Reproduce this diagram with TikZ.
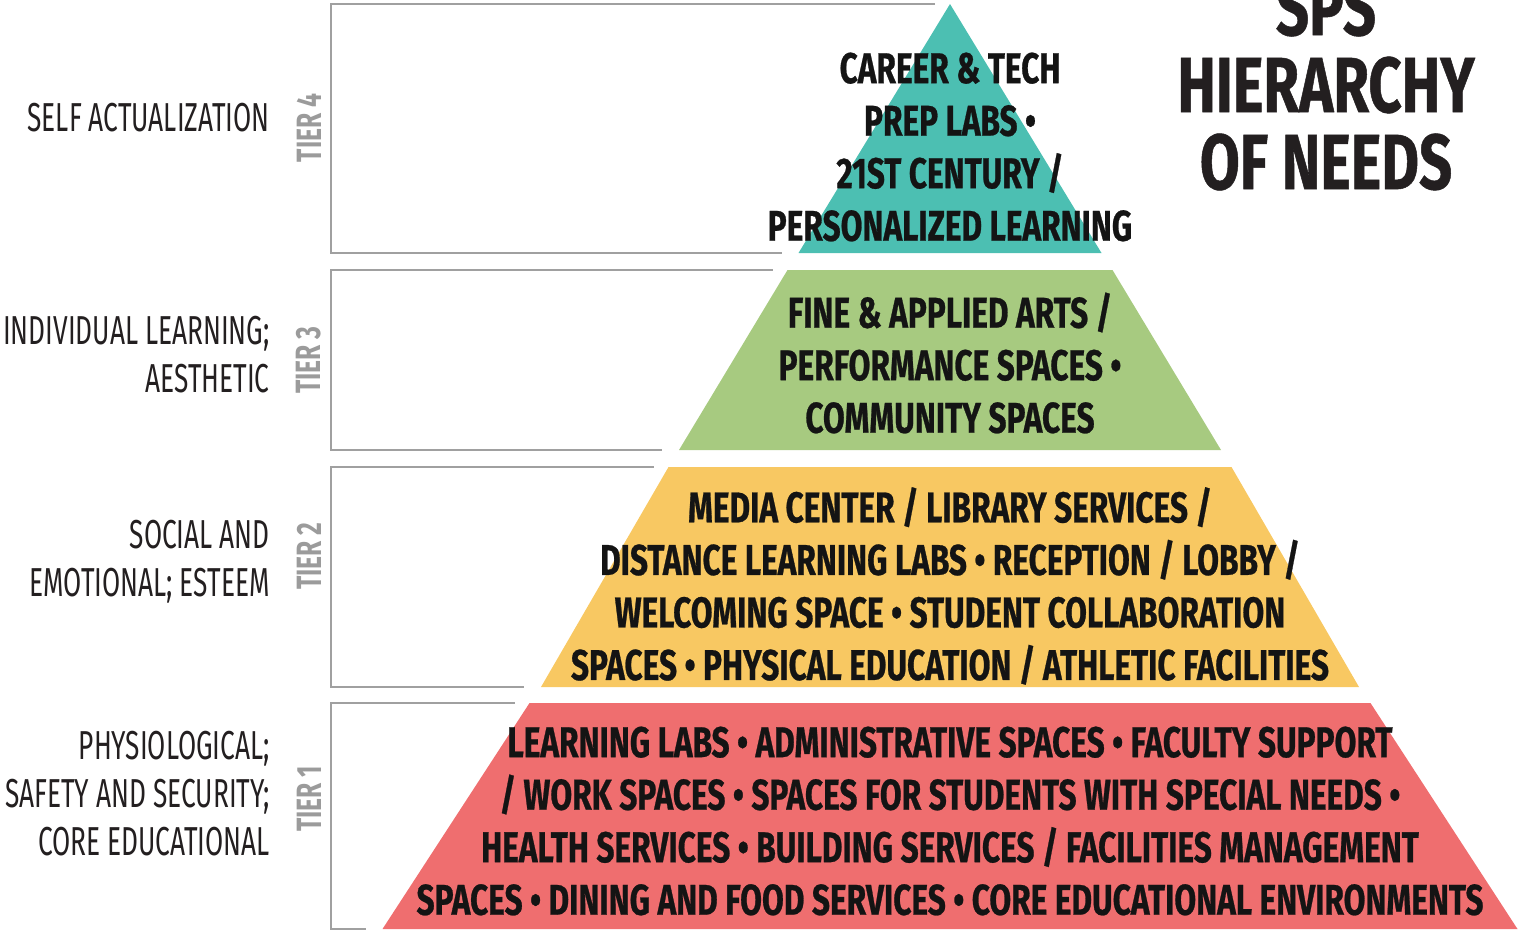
\documentclass[tikz,border=0pt]{standalone}
\usepackage{fontspec}
\setmainfont{Fira Sans}
\newfontfamily\needfont[FakeStretch=0.65]{Fira Sans}
\newfontfamily\bandfont[FakeStretch=0.735,FakeBold=0.6]{Fira Sans}
\newfontfamily\titlefont[FakeStretch=0.74,FakeBold=0.6]{Fira Sans}
\newfontfamily\tierfont[FakeStretch=0.7]{Fira Sans}

\begin{document}
\begin{tikzpicture}[x=0.02cm,y=-0.02cm,
    bracket/.style={draw=bracketgray, line width=1.1pt},
    tierlabel/.style={rotate=90, inner sep=0, text=tiergray, font=\tierfont\bfseries\fontsize{20}{24}\selectfont},
    needtext/.style={anchor=east, align=right, inner sep=0, text=titleblack, font=\needfont\fontsize{23}{27.3}\selectfont},
    bandtext/.style={align=center, inner sep=0, text=black!92, font=\bandfont\bfseries\fontsize{24.5}{29.9}\selectfont},
    titletext/.style={align=center, inner sep=0, text=titleblack, font=\titlefont\bfseries\fontsize{44.6}{43.8}\selectfont}]
    \definecolor{tier4}{HTML}{4CBFB2}
    \definecolor{tier3}{HTML}{A7CA80}
    \definecolor{tier2}{HTML}{F8C862}
    \definecolor{tier1}{HTML}{EF6E6F}
    \definecolor{bracketgray}{HTML}{A0A0A0}
    \definecolor{tiergray}{HTML}{9B9B9B}
    \definecolor{titleblack}{HTML}{231F20}
    \useasboundingbox (0,0) rectangle (1518,931);
    \clip (0,0) rectangle (1518,931);
    % Stufen der Pyramide, Klammern links, TIER-Beschriftung
    \foreach \t/\ya/\yb/\wa/\wb/\ty in
    {
      4/4/253/0/151.5/128,
      3/270/450/162.5/271/360,
      2/467/687/281.5/409/556,
      1/703/929/420.5/567.5/799
    }
    {
      \fill[tier\t] (950-\wa,\ya) -- (950+\wa,\ya) -- (950+\wb,\yb) -- (950-\wb,\yb) -- cycle;
      \draw[bracket] (950-\wa-15,\ya) -- (331,\ya) -- (331,\yb) -- (950-\wb-17,\yb);
      \node[tierlabel] (tier\t) at (309,\ty) {TIER \t};
    };
    % Texte in den Stufen
    \node[bandtext] (band4) at (950,147) {CAREER \& TECH\\PREP LABS •\\21ST CENTURY /\\PERSONALIZED LEARNING};
    \node[bandtext] (band3) at (950,363) {FINE \& APPLIED ARTS /\\PERFORMANCE SPACES •\\COMMUNITY SPACES};
    \node[bandtext] (band2) at (950,586) {MEDIA CENTER / LIBRARY SERVICES /\\DISTANCE LEARNING LABS • RECEPTION / LOBBY /\\WELCOMING SPACE • STUDENT COLLABORATION\\SPACES • PHYSICAL EDUCATION / ATHLETIC FACILITIES};
    \node[bandtext] (band1) at (950,821) {LEARNING LABS • ADMINISTRATIVE SPACES • FACULTY SUPPORT\\/ WORK SPACES • SPACES FOR STUDENTS WITH SPECIAL NEEDS •\\HEALTH SERVICES • BUILDING SERVICES / FACILITIES MANAGEMENT\\SPACES • DINING AND FOOD SERVICES • CORE EDUCATIONAL ENVIRONMENTS};
    % Beduerfnisse links
    \node[needtext] (need4) at (270,118) {SELF ACTUALIZATION};
    \node[needtext] (need3) at (270,355) {INDIVIDUAL LEARNING;\\AESTHETIC};
    \node[needtext] (need2) at (270,562) {SOCIAL AND\\EMOTIONAL; ESTEEM};
    \node[needtext] (need1) at (270,794) {PHYSIOLOGICAL;\\SAFETY AND SECURITY;\\CORE EDUCATIONAL};
    % Titel
    \node[titletext] (title) at (1326,85) {SPS\\HIERARCHY\\OF NEEDS};
\end{tikzpicture}
\end{document}
